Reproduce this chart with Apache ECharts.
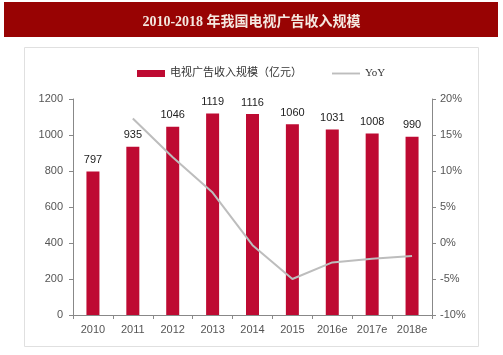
<!DOCTYPE html>
<html><head><meta charset="utf-8">
<script src="https://cdn.jsdelivr.net/npm/echarts@6/dist/echarts.min.js"></script>
<style>html,body{margin:0;padding:0;background:#fff}#c{width:503px;height:355px}</style>
</head><body><div id="c"></div>
<script>
var categories = ['2010','2011','2012','2013','2014','2015','2016e','2017e','2018e'];
var revenue = [797, 935, 1046, 1119, 1116, 1060, 1031, 1008, 990];
var yoy = [null, 17.3, 11.9, 7.0, -0.3, -5.0, -2.7, -2.2, -1.8];
var leftTicks = [0, 1200, 200];
var rightTicks = [-10, 20, 5];
var titleText = '2010-2018 年我国电视广告收入规模';
var barName = '电视广告收入规模（亿元）';
var lineName = 'YoY';

var chart = echarts.init(document.getElementById('c'), null, {renderer:'canvas'});
chart.setOption({
  animation: false,
  backgroundColor: '#fff',
  graphic: [
    {type:'rect', shape:{x:4,y:2,width:494,height:35}, style:{fill:'#980303'}, z:-1},
    {type:'rect', shape:{x:24.5,y:47.5,width:454,height:299}, style:{fill:'none', stroke:'#e0e0e0', lineWidth:1}, z:-1}
  ],
  title: {
    text: titleText, left: 'center', top: 10,
    textStyle: {color:'#f4e8e0', fontSize:14, fontWeight:'bold', fontFamily:'"Liberation Serif","Noto Sans CJK SC"'}
  },
  legend: {
    top: 63, left: 132, itemGap: 30, itemWidth: 28, itemHeight: 7,
    textStyle: {fontSize: 11, color:'#333', fontFamily:'"Liberation Serif","Noto Sans CJK SC"'},
    data: [
      {name: barName, icon: 'rect'},
      {name: lineName, icon: 'path://M0,0 L30,0 L30,2 L0,2 Z', itemStyle:{color:'#bdbdbd'}}
    ]
  },
  grid: {left: 73, right: 71, top: 99, bottom: 40},
  xAxis: {
    type: 'category', data: categories,
    axisLine: {lineStyle:{color:'#888'}},
    axisTick: {show:true, alignWithLabel:false, length:4, lineStyle:{color:'#888'}},
    axisLabel: {color:'#555', fontSize:11, margin:9, fontFamily:'Liberation Sans'}
  },
  yAxis: [
    {type:'value', min:leftTicks[0], max:leftTicks[1], interval:leftTicks[2],
     axisLine:{show:true, lineStyle:{color:'#888'}}, axisTick:{show:true, length:4, lineStyle:{color:'#888'}},
     splitLine:{show:false}, axisLabel:{color:'#555', fontSize:11, margin:10, fontFamily:'Liberation Sans', formatter: function(v){return String(v);}}},
    {type:'value', min:rightTicks[0], max:rightTicks[1], interval:rightTicks[2],
     axisLine:{show:true, lineStyle:{color:'#888'}}, axisTick:{show:true, length:4, lineStyle:{color:'#888'}},
     splitLine:{show:false}, axisLabel:{color:'#555', fontSize:11, margin:8, formatter:'{value}%', fontFamily:'Liberation Sans'}}
  ],
  series: [
    {name: barName, type:'bar', data: revenue, barWidth: 13, yAxisIndex:0,
     itemStyle:{color:'#be0a32'},
     label:{show:true, position:'top', distance:6, color:'#222', fontSize:11, fontFamily:'Liberation Sans'}},
    {name: lineName, type:'line', data: yoy, yAxisIndex:1, symbol:'none',
     lineStyle:{color:'#bdbdbd', width:2}, itemStyle:{color:'#bdbdbd'}, z:3}
  ]
});
</script></body></html>
